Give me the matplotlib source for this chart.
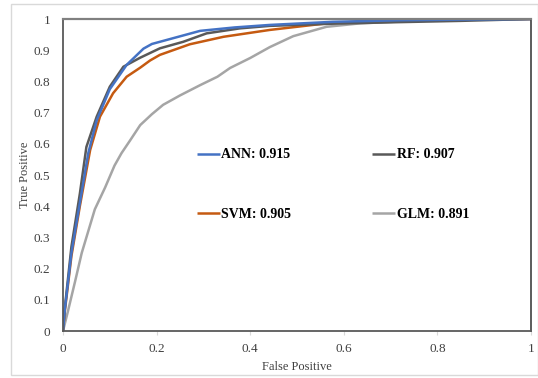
import matplotlib
matplotlib.use("Agg")
import matplotlib.pyplot as plt
from matplotlib.patches import Rectangle

# ROC curve data
ann_x = [0, 0.004, 0.018, 0.036, 0.054, 0.072, 0.10, 0.136, 0.172, 0.19, 0.293, 0.367, 0.442, 0.577, 0.72, 0.85, 1.0]
ann_y = [0, 0.07, 0.25, 0.41, 0.57, 0.675, 0.775, 0.853, 0.905, 0.92, 0.962, 0.973, 0.981, 0.991, 0.996, 0.998, 1.0]

rf_x = [0, 0.004, 0.018, 0.036, 0.05, 0.072, 0.10, 0.129, 0.165, 0.207, 0.257, 0.307, 0.378, 0.442, 0.577, 0.72, 0.85, 1.0]
rf_y = [0, 0.075, 0.27, 0.44, 0.59, 0.687, 0.783, 0.847, 0.876, 0.906, 0.927, 0.954, 0.97, 0.978, 0.985, 0.99, 0.994, 1.0]

svm_x = [0, 0.004, 0.018, 0.036, 0.058, 0.079, 0.107, 0.136, 0.165, 0.186, 0.207, 0.271, 0.343, 0.442, 0.563, 0.705, 1.0]
svm_y = [0, 0.065, 0.24, 0.40, 0.58, 0.687, 0.762, 0.815, 0.844, 0.867, 0.885, 0.919, 0.943, 0.965, 0.986, 0.997, 1.0]

glm_x = [0, 0.01, 0.026, 0.04, 0.054, 0.068, 0.09, 0.11, 0.125, 0.143, 0.165, 0.19, 0.214, 0.25, 0.293, 0.33,
         0.357, 0.40, 0.442, 0.492, 0.563, 0.635, 0.72, 0.806, 1.0]
glm_y = [0, 0.06, 0.16, 0.25, 0.32, 0.39, 0.46, 0.53, 0.57, 0.61, 0.66, 0.695, 0.725, 0.755, 0.788, 0.815,
         0.843, 0.875, 0.91, 0.945, 0.975, 0.986, 0.992, 0.997, 1.0]

labels = ["ANN: 0.915", "RF: 0.907", "SVM: 0.905", "GLM: 0.891"]
colors = ["#4472C4", "#595959", "#C55A11", "#A5A5A5"]

ticks = [0, 0.2, 0.4, 0.6, 0.8, 1]
tick_labels_x = ["0", "0.2", "0.4", "0.6", "0.8", "1"]
yticks = [0, 0.1, 0.2, 0.3, 0.4, 0.5, 0.6, 0.7, 0.8, 0.9, 1]
tick_labels_y = ["0", "0.1", "0.2", "0.3", "0.4", "0.5", "0.6", "0.7", "0.8", "0.9", "1"]

plt.rcParams['font.family'] = ['Liberation Serif', 'DejaVu Serif']

W, H = 538, 378
fig = plt.figure(figsize=(W / 100, H / 100), dpi=100)
fig.patch.set_facecolor("white")
fig.add_artist(Rectangle((11 / W, 1 - 375 / H), (W - 11) / W, (375 - 4) / H,
                         transform=fig.transFigure, fill=False, edgecolor="#D9D9D9", lw=1.0))

ax = fig.add_axes([63 / W, 1 - 331 / H, 468 / W, 312 / H])

# draw order: GLM below, then SVM, RF, ANN
series = [(ann_x, ann_y), (rf_x, rf_y), (svm_x, svm_y), (glm_x, glm_y)]
handles = [None] * 4
for i in [3, 2, 1, 0]:
    xs, ys = series[i]
    h, = ax.plot(xs, ys, color=colors[i], lw=1.8, label=labels[i],
                 solid_joinstyle="round", solid_capstyle="butt")
    handles[i] = h

ax.set_xlim(0, 1)
ax.set_ylim(0, 1)
ax.set_xticks(ticks)
ax.set_xticklabels(tick_labels_x)
ax.set_yticks(yticks)
ax.set_yticklabels(tick_labels_y)
ax.tick_params(axis="both", labelsize=9.5, colors="#404040", length=0)
ax.tick_params(axis="x", pad=6, length=3, color="#D9D9D9", direction="out")
ax.tick_params(axis="y", pad=9)

for s in ["left", "bottom"]:
    ax.spines[s].set_color("#595959")
    ax.spines[s].set_linewidth(1.3)
ax.spines["top"].set_color("#808080")
ax.spines["top"].set_linewidth(1.6)
ax.spines["right"].set_color("#404040")
ax.spines["right"].set_linewidth(1.2)

ax.set_xlabel("False Positive", fontsize=9, color="#404040", labelpad=4)
ax.set_ylabel("True Positive", fontsize=9, color="#404040", labelpad=2)

leg = ax.legend(handles=[handles[0], handles[2], handles[1], handles[3]],
                labels=[labels[0], labels[2], labels[1], labels[3]],
                ncol=2, loc="upper left", bbox_to_anchor=(0.286, 0.585),
                frameon=False, borderaxespad=0, borderpad=0,
                handlelength=1.65, handletextpad=0.1, labelspacing=3.35,
                columnspacing=5.85, prop={"weight": "bold", "size": 10})

fig.savefig("out.png", dpi=100, facecolor="white")
